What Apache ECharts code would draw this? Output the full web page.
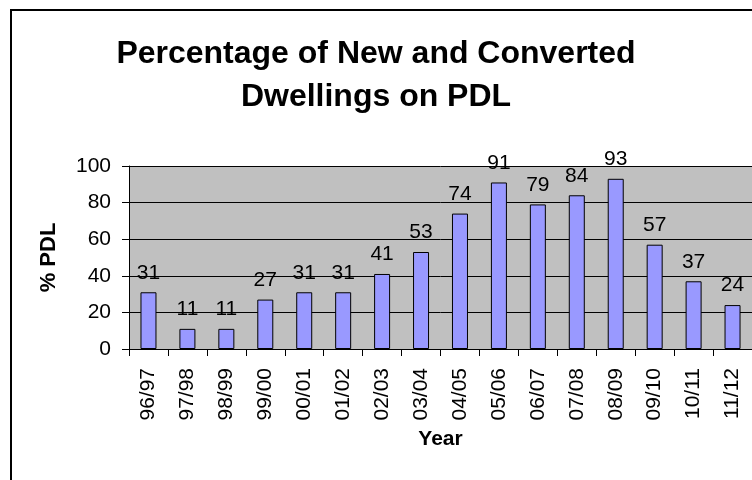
<!DOCTYPE html>
<html>
<head>
<meta charset="utf-8">
<script src="https://cdn.jsdelivr.net/npm/echarts@6/dist/echarts.min.js"></script>
<style>
  html, body { margin: 0; padding: 0; background: #fff; }
  #chart { width: 752px; height: 480px; }
</style>
</head>
<body>
<div id="chart"></div>
<script>
// Financial years and share of new/converted dwellings built on previously developed land
const years = ['96/97', '97/98', '98/99', '99/00', '00/01', '01/02', '02/03', '03/04',
               '04/05', '05/06', '06/07', '07/08', '08/09', '09/10', '10/11', '11/12'];
const pdlPercent = [31, 11, 11, 27, 31, 31, 41, 53, 74, 91, 79, 84, 93, 57, 37, 24];
const yTicks = { min: 0, max: 100, interval: 20 };

const FONT = '"Liberation Sans", Arial, Helvetica, sans-serif';

const chart = echarts.init(document.getElementById('chart'), null, { renderer: 'canvas' });

chart.setOption({
  backgroundColor: '#ffffff',
  animation: false,
  title: {
    text: 'Percentage of New and Converted\nDwellings on PDL',
    left: 'center',
    top: 28,
    textStyle: {
      fontFamily: FONT,
      fontSize: 32,
      fontWeight: 'bold',
      lineHeight: 43,
      color: '#000'
    }
  },
  graphic: [{
    type: 'rect',
    shape: { x: 11, y: 10, width: 800, height: 520 },
    style: { fill: 'none', stroke: '#000', lineWidth: 2 },
    silent: true,
    z: 100
  }],
  grid: {
    left: 129,
    top: 166,
    right: 0,
    bottom: 131,
    show: true,
    backgroundColor: '#C0C0C0',
    borderWidth: 0
  },
  xAxis: {
    type: 'category',
    data: years,
    name: 'Year',
    nameLocation: 'middle',
    nameGap: 80,
    nameMoveOverlap: false,
    nameTextStyle: { fontFamily: FONT, fontSize: 21, fontWeight: 'bold', color: '#000' },
    axisLine: { lineStyle: { color: '#000', width: 1 } },
    axisTick: { show: true, length: 7, lineStyle: { color: '#000' } },
    axisLabel: {
      rotate: 90,
      margin: 19,
      fontFamily: FONT,
      fontSize: 21,
      color: '#000',
      interval: 0
    }
  },
  yAxis: {
    type: 'value',
    min: yTicks.min,
    max: yTicks.max,
    interval: yTicks.interval,
    name: '% PDL',
    nameLocation: 'middle',
    nameGap: 69,
    nameMoveOverlap: false,
    nameTextStyle: { fontFamily: FONT, fontSize: 22, fontWeight: 'bold', color: '#000' },
    axisLine: { show: true, lineStyle: { color: '#000', width: 1 } },
    axisTick: { show: true, length: 7, lineStyle: { color: '#000' } },
    axisLabel: { margin: 18, fontFamily: FONT, fontSize: 21, color: '#000' },
    splitLine: { show: true, lineStyle: { color: '#000', width: 1 } }
  },
  series: [{
    type: 'bar',
    data: pdlPercent,
    barWidth: 16,
    itemStyle: { color: '#9999FF', borderColor: '#000', borderWidth: 1 },
    label: {
      show: true,
      position: 'top',
      distance: 9,
      fontFamily: FONT,
      fontSize: 21,
      color: '#000'
    }
  }]
});
</script>
</body>
</html>
